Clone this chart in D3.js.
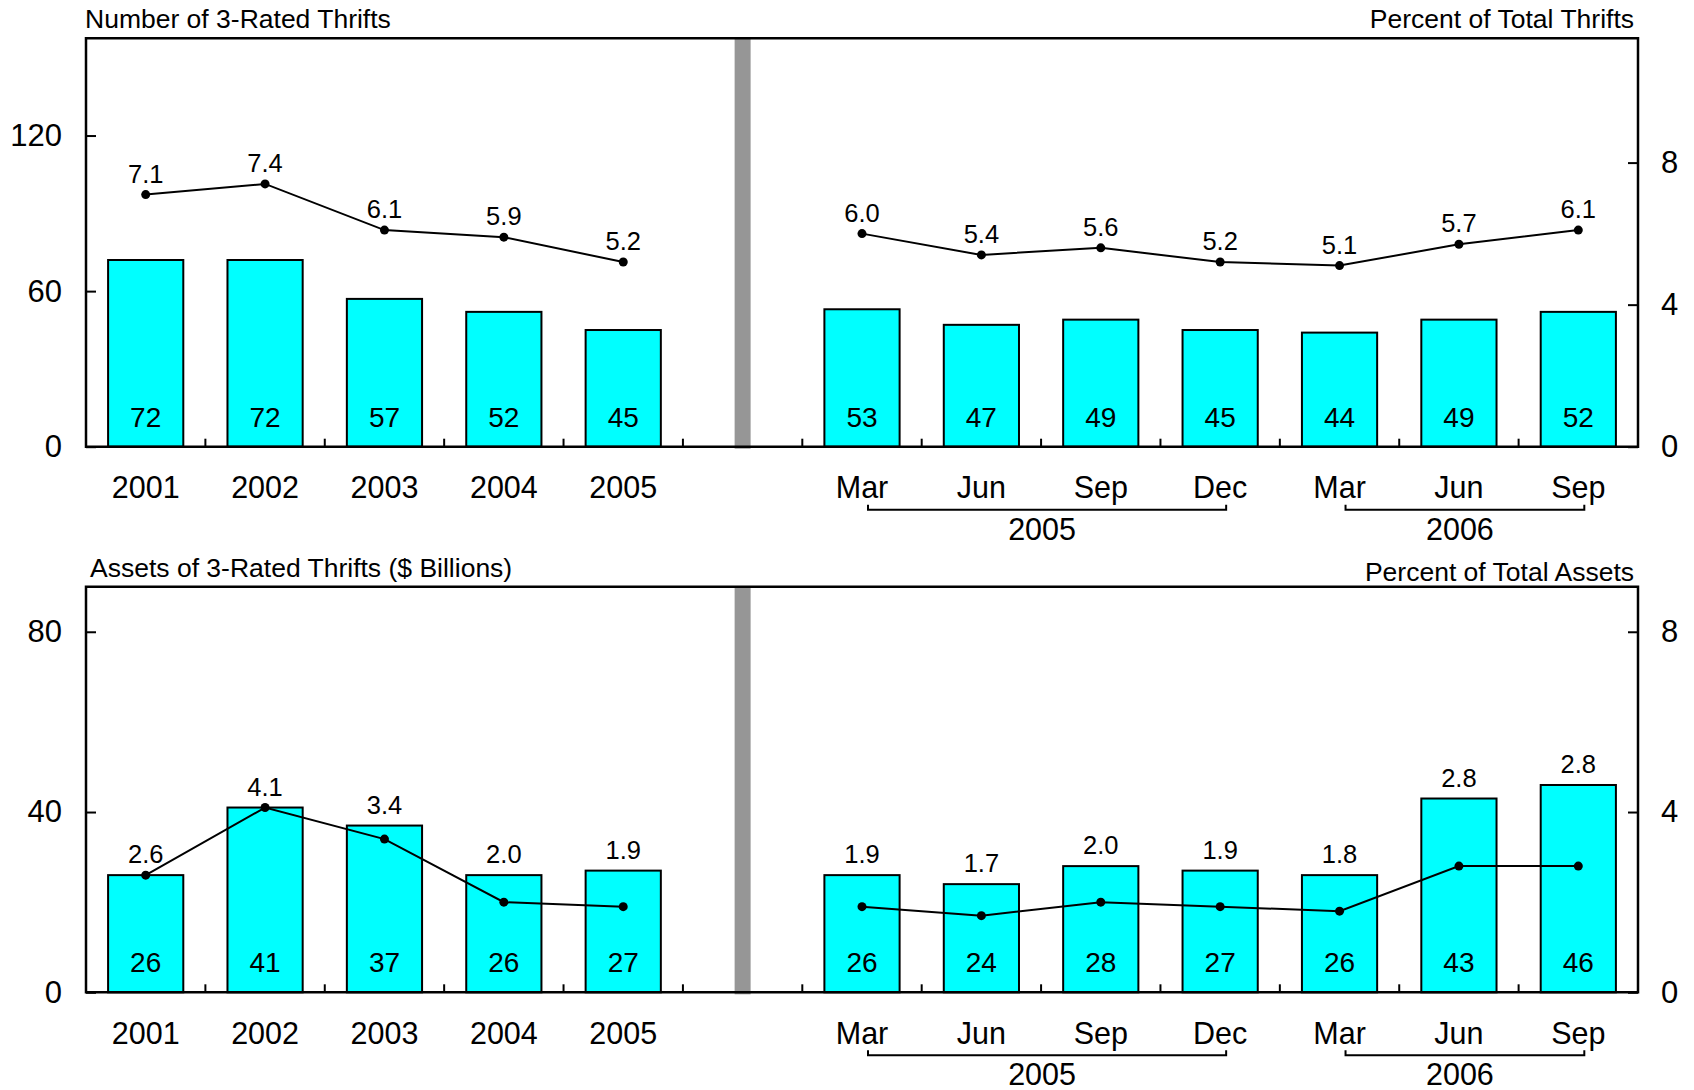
<!DOCTYPE html>
<html>
<head>
<meta charset="utf-8">
<script src="https://cdn.jsdelivr.net/npm/d3@7"></script>
<style>
  body { margin: 0; background: #fff; }
  svg text { font-family: "Liberation Sans", Arial, sans-serif; fill: #000; }
</style>
</head>
<body>
<div id="chart"></div>
<script>
// slots along the x axis (one empty slot holds the grey divider)
var slotKeys = ["2001", "2002", "2003", "2004", "2005", "gap",
                "2005Q1", "2005Q2", "2005Q3", "2005Q4", "2006Q1", "2006Q2", "2006Q3"];
var slotLabels = ["2001", "2002", "2003", "2004", "2005", "",
                  "Mar", "Jun", "Sep", "Dec", "Mar", "Jun", "Sep"];
var annualKeys = ["2001", "2002", "2003", "2004", "2005"];
var quarterKeys = ["2005Q1", "2005Q2", "2005Q3", "2005Q4", "2006Q1", "2006Q2", "2006Q3"];

// number of 3-rated thrifts, and percent of total thrifts
var thriftCount = [72, 72, 57, 52, 45, 53, 47, 49, 45, 44, 49, 52];
var thriftPct = [7.1, 7.4, 6.1, 5.9, 5.2, 6.0, 5.4, 5.6, 5.2, 5.1, 5.7, 6.1];

// assets of 3-rated thrifts ($ billions), and percent of total assets
var assetAmt = [26, 41, 37, 26, 27, 26, 24, 28, 27, 26, 43, 46];
var assetPct = [2.6, 4.1, 3.4, 2.0, 1.9, 1.9, 1.7, 2.0, 1.9, 1.8, 2.8, 2.8];

// year brackets under the quarters
var yearGroups = ["2005", "2006"];
var yearFrom = ["2005Q1", "2006Q1"];
var yearTo = ["2005Q4", "2006Q3"];

var topLeftTicks = [0, 60, 120], topRightTicks = [0, 4, 8];
var botLeftTicks = [0, 40, 80], botRightTicks = [0, 4, 8];

var W = 1694, H = 1090;
var left = 86, right = 1638;

var svg = d3.select("#chart").append("svg")
    .attr("width", W)
    .attr("height", H);

var x = d3.scaleBand()
    .domain(slotKeys)
    .range([left, right])
    .paddingInner(0.37)
    .paddingOuter(0.185);

var dataKeys = annualKeys.concat(quarterKeys);

function drawPanel(p) {
  var g = svg.append("g");

  var yL = d3.scaleLinear().domain([0, p.leftMax]).range([p.bottom, p.top]);
  var yR = d3.scaleLinear().domain([0, p.rightMax]).range([p.bottom, p.top]);

  var rows = dataKeys.map(function(k, i) {
    return {key: k, bar: p.bars[i], pct: p.pct[i]};
  });

  // grey divider between annual and quarterly data
  g.append("rect")
    .attr("x", x("gap") + x.bandwidth() / 2 - 8)
    .attr("y", p.top)
    .attr("width", 16)
    .attr("height", p.bottom - p.top + 2)
    .style("fill", "#969696");

  // bars
  g.selectAll(".bar")
    .data(rows)
    .enter()
    .append("rect")
      .attr("class", "bar")
      .attr("x", function(d) { return x(d.key); })
      .attr("y", function(d) { return yL(d.bar); })
      .attr("width", x.bandwidth())
      .attr("height", function(d) { return p.bottom - yL(d.bar); })
      .style("fill", "#00ffff")
      .style("stroke", "#000")
      .style("stroke-width", 2);

  // bar values
  g.selectAll(".barval")
    .data(rows)
    .enter()
    .append("text")
      .attr("x", function(d) { return x(d.key) + x.bandwidth() / 2; })
      .attr("y", p.bottom - 20)
      .attr("text-anchor", "middle")
      .style("font-size", "28px")
      .text(function(d) { return d.bar; });

  // percent lines, annual and quarterly drawn apart
  var line = d3.line()
    .x(function(d) { return x(d.key) + x.bandwidth() / 2; })
    .y(function(d) { return yR(d.pct); });

  [rows.slice(0, 5), rows.slice(5)].forEach(function(seg) {
    g.append("path")
      .datum(seg)
      .attr("d", line)
      .style("fill", "none")
      .style("stroke", "#000")
      .style("stroke-width", 2);
  });

  g.selectAll(".dot")
    .data(rows)
    .enter()
    .append("circle")
      .attr("cx", function(d) { return x(d.key) + x.bandwidth() / 2; })
      .attr("cy", function(d) { return yR(d.pct); })
      .attr("r", 4.5)
      .style("fill", "#000");

  g.selectAll(".pctval")
    .data(rows)
    .enter()
    .append("text")
      .attr("x", function(d) { return x(d.key) + x.bandwidth() / 2; })
      .attr("y", function(d) { return Math.min(yL(d.bar), yR(d.pct)) - 12; })
      .attr("text-anchor", "middle")
      .style("font-size", "25.5px")
      .text(function(d) { return d3.format(".1f")(d.pct); });

  // x axis ticks at slot boundaries, pointing up
  var bounds = d3.range(1, slotKeys.length).map(function(i) {
    return x.range()[0] + i * x.step();
  });
  g.selectAll(".xtick")
    .data(bounds)
    .enter()
    .append("line")
      .attr("x1", function(d) { return d; })
      .attr("x2", function(d) { return d; })
      .attr("y1", p.bottom)
      .attr("y2", p.bottom - 8)
      .style("stroke", "#000")
      .style("stroke-width", 2);

  // x labels
  var xAxis = g.append("g")
    .attr("transform", "translate(0," + p.bottom + ")")
    .call(d3.axisBottom(x).tickSize(0).tickPadding(30)
      .tickFormat(function(k, i) { return slotLabels[i]; }));
  xAxis.select(".domain").remove();
  xAxis.selectAll("text").style("font-size", "30.5px").style("font-family", null);

  // left and right value axes, ticks pointing inward
  var axL = g.append("g")
    .attr("transform", "translate(" + left + ",0)")
    .call(d3.axisLeft(yL).tickValues(p.leftTicks).tickSizeInner(-10).tickSizeOuter(0).tickPadding(24));
  var axR = g.append("g")
    .attr("transform", "translate(" + right + ",0)")
    .call(d3.axisRight(yR).tickValues(p.rightTicks).tickSizeInner(-10).tickSizeOuter(0).tickPadding(23));
  [axL, axR].forEach(function(a) {
    a.select(".domain").remove();
    a.selectAll("line").style("stroke-width", 2);
    a.selectAll("text").style("font-size", "31px").style("font-family", null);
  });

  // frame
  g.append("path")
    .attr("d", "M" + left + "," + p.bottom + "V" + p.top + "H" + right + "V" + p.bottom + "Z")
    .style("fill", "none")
    .style("stroke", "#000")
    .style("stroke-width", 2.5);

  // titles
  g.append("text")
    .attr("x", p.titleX)
    .attr("y", p.titleY)
    .style("font-size", "26.5px")
    .text(p.titleL);
  g.append("text")
    .attr("x", 1634)
    .attr("y", p.titleRY)
    .attr("text-anchor", "end")
    .style("font-size", "26.5px")
    .text(p.titleR);

  // year brackets
  var by = p.bottom + 63;
  yearGroups.forEach(function(yr, i) {
    var x0 = x(yearFrom[i]) + x.bandwidth() / 2 + 6;
    var x1 = x(yearTo[i]) + x.bandwidth() / 2 + 6;
    g.append("path")
      .attr("d", "M" + x0 + "," + (by - 5) + "V" + by + "H" + x1 + "V" + (by - 5))
      .style("fill", "none")
      .style("stroke", "#000")
      .style("stroke-width", 2);
    g.append("text")
      .attr("x", (x0 + x1) / 2 - 5)
      .attr("y", by + 30)
      .attr("text-anchor", "middle")
      .style("font-size", "30.5px")
      .text(yr);
  });
}

drawPanel({
  top: 38.3, bottom: 446.7,
  leftMax: 157.5, rightMax: 11.5,
  leftTicks: topLeftTicks, rightTicks: topRightTicks,
  bars: thriftCount, pct: thriftPct,
  titleL: "Number of 3-Rated Thrifts", titleX: 85, titleY: 28,
  titleR: "Percent of Total Thrifts", titleRY: 28
});

drawPanel({
  top: 586.7, bottom: 992.3,
  leftMax: 90, rightMax: 9,
  leftTicks: botLeftTicks, rightTicks: botRightTicks,
  bars: assetAmt, pct: assetPct,
  titleL: "Assets of 3-Rated Thrifts ($ Billions)", titleX: 90, titleY: 577,
  titleR: "Percent of Total Assets", titleRY: 581
});
</script>
</body>
</html>
